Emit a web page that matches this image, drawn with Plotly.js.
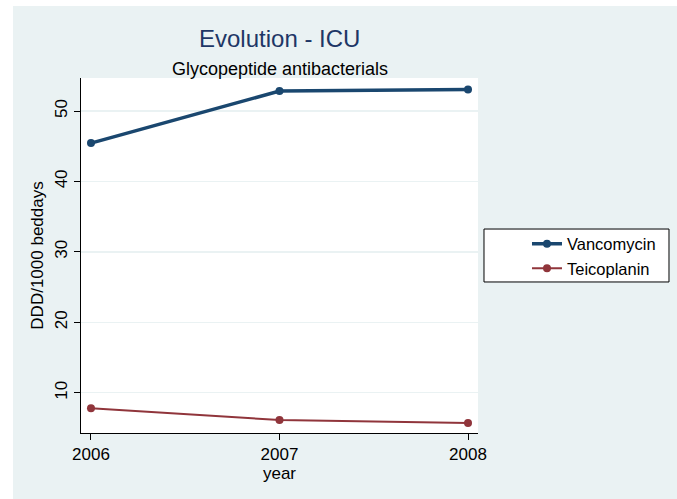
<!DOCTYPE html>
<html>
<head>
<meta charset="utf-8">
<script src="https://cdn.plot.ly/plotly-3.0.1.min.js"></script>
<style>
  html, body { margin: 0; padding: 0; background: #ffffff; }
  #chart { position: absolute; left: 13px; top: 6px; width: 664px; height: 493px; }
</style>
</head>
<body>
<div id="chart"></div>
<script>
// ---- data ----
const years = [2006, 2007, 2008];
const yearLabels = ["2006", "2007", "2008"];
const vancomycin = [45.45, 52.84, 53.05];
const teicoplanin = [7.78, 6.12, 5.70];
const yTicks = [10, 20, 30, 40, 50];
const seriesNames = ["Vancomycin", "Teicoplanin"];

const FONT = "Liberation Sans, Arial, Helvetica, sans-serif";
const BG = "#eaf2f3";

const traces = [
  {
    x: years, y: vancomycin, name: seriesNames[0],
    type: "scatter", mode: "lines+markers",
    line: { color: "#1a476f", width: 3.5 },
    marker: { color: "#1a476f", size: 8, symbol: "circle" }
  },
  {
    x: years, y: teicoplanin, name: seriesNames[1],
    type: "scatter", mode: "lines+markers",
    line: { color: "#90353b", width: 2 },
    marker: { color: "#90353b", size: 8, symbol: "circle" }
  }
];

const layout = {
  width: 664, height: 493,
  paper_bgcolor: BG,
  plot_bgcolor: "#ffffff",
  margin: { l: 68, r: 199, t: 72, b: 66, pad: 0 },
  font: { family: FONT, size: 17, color: "#000000" },
  showlegend: true,
  xaxis: {
    range: [2005.947, 2008.053],
    tickmode: "array", tickvals: years, ticktext: yearLabels,
    showgrid: false, zeroline: false,
    showline: true, linecolor: "#000000", linewidth: 1,
    ticks: "outside", ticklen: 6, tickcolor: "#000000", tickwidth: 1,
    tickfont: { family: FONT, size: 17, color: "#000000" },
    title: { text: "year", font: { family: FONT, size: 17, color: "#000000" }, standoff: 2 }
  },
  yaxis: {
    range: [4.28, 54.69],
    tickmode: "array", tickvals: yTicks, ticktext: yTicks.map(String),
    tickangle: -90,
    showgrid: true, gridcolor: BG, gridwidth: 1.5, zeroline: false,
    showline: true, linecolor: "#000000", linewidth: 1,
    ticks: "outside", ticklen: 6, tickcolor: "#000000", tickwidth: 1,
    tickfont: { family: FONT, size: 17, color: "#000000" },
    title: { text: "DDD/1000 beddays", font: { family: FONT, size: 17, color: "#000000" }, standoff: 4 }
  },
  legend: {
    x: 1.1234, xanchor: "left",
    y: 0.5817, yanchor: "top",
    bgcolor: "rgba(0,0,0,0)", borderwidth: 0,
    font: { family: FONT, size: 16.5, color: "#000000" },
    tracegroupgap: 0
  },
  shapes: [
    {
      type: "rect", xref: "paper", yref: "paper",
      x0: 1.0151, x1: 1.4811, y0: 0.4254, y1: 0.5746,
      fillcolor: "#ffffff", line: { color: "#000000", width: 1 },
      layer: "below"
    }
  ],
  annotations: [
    {
      text: "Evolution - ICU", xref: "paper", yref: "paper",
      x: 0.5, y: 1.1113, xanchor: "center", yanchor: "middle",
      showarrow: false,
      font: { family: FONT, size: 24, color: "#1e3766" }
    },
    {
      text: "Glycopeptide antibacterials", xref: "paper", yref: "paper",
      x: 0.5, y: 1.0254, xanchor: "center", yanchor: "middle",
      showarrow: false,
      font: { family: FONT, size: 18, color: "#000000" }
    }
  ]
};

Plotly.newPlot("chart", traces, layout, { displayModeBar: false, staticPlot: true });
</script>
</body>
</html>
